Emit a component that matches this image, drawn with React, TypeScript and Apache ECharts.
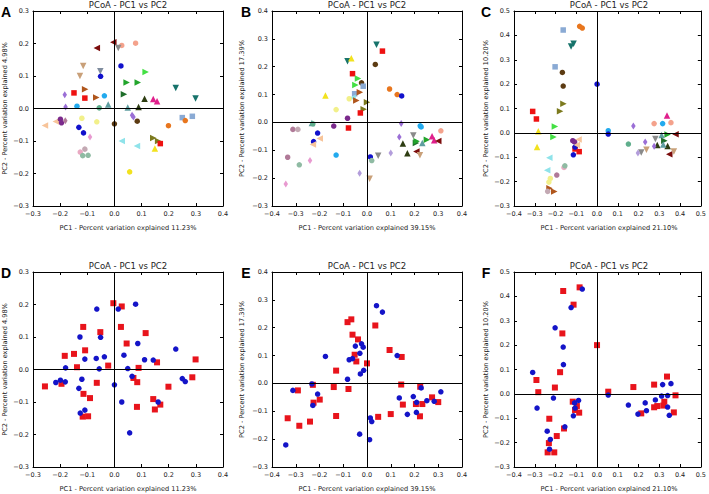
import { useEffect, useRef } from 'react';
import * as echarts from 'echarts';

// [PC1, PC2, sample key, group]  group: R = red squares, B = blue circles
type Pt = [number, number, string, string];

const pcoaA: Pt[] = [
  [-0.065, 0.186, 'maroonL', 'B'], [-0.004, 0.204, 'maroonL', 'R'],
  [0.027, 0.194, 'salmonO', 'R'], [0.078, 0.201, 'salmonO', 'B'],
  [0.014, 0.186, 'grayV', 'B'], [-0.115, 0.131, 'tanV', 'R'],
  [-0.127, 0.100, 'tanV', 'B'], [-0.052, 0.115, 'slateV', 'R'],
  [0.024, 0.131, 'blueO', 'R'], [-0.051, 0.099, 'blueO', 'B'],
  [0.115, 0.112, 'limeR', 'R'], [0.045, 0.080, 'greenR', 'R'],
  [0.086, 0.080, 'greenR', 'B'], [0.226, 0.063, 'tealV', 'B'],
  [0.299, 0.031, 'tealV', 'R'], [-0.183, 0.042, 'purpleD', 'R'],
  [-0.149, 0.048, 'redS', 'R'], [-0.109, 0.032, 'redS', 'B'],
  [-0.108, 0.059, 'siennaR', 'R'], [-0.067, 0.034, 'siennaR', 'B'],
  [-0.037, 0.039, 'skyO', 'B'], [0.035, 0.044, 'dkgreenR', 'B'],
  [-0.138, 0.007, 'skyO', 'R'], [-0.180, 0.005, 'purpleD', 'B'],
  [-0.056, 0.002, 'seaO', 'B'], [-0.023, 0.012, 'cadetA', 'R'],
  [0.049, 0.003, 'cadetA', 'B'], [0.089, 0.005, 'oliveDkA', 'R'],
  [0.111, 0.030, 'oliveDkA', 'B'], [0.143, 0.029, 'pinkA', 'B'],
  [0.157, 0.022, 'pinkA', 'R'], [0.065, -0.021, 'purpleD', 'B'],
  [0.070, -0.026, 'purpleD', 'R'], [0.084, -0.039, 'dkbrownO', 'R'],
  [0.000, -0.047, 'dkbrownO', 'B'], [0.250, -0.028, 'steelS', 'B'],
  [0.287, -0.024, 'steelS', 'R'], [0.261, -0.037, 'orangeO', 'B'],
  [0.199, -0.053, 'orangeO', 'R'], [-0.256, -0.052, 'peachL', 'R'],
  [-0.216, -0.040, 'peachL', 'B'], [-0.199, -0.033, 'plumO', 'B'],
  [-0.195, -0.044, 'plumO', 'R'], [-0.181, -0.038, 'rosyD', 'B'],
  [-0.120, -0.030, 'khakiO', 'B'], [-0.065, -0.041, 'khakiO', 'R'],
  [-0.131, -0.058, 'blueO', 'B'], [-0.114, -0.075, 'blueO', 'R'],
  [-0.090, -0.088, 'pinkD', 'R'], [0.027, -0.100, 'cyanL', 'B'],
  [0.083, -0.115, 'cyanL', 'R'], [0.143, -0.091, 'oliveR', 'R'],
  [0.161, -0.100, 'oliveR', 'B'], [0.169, -0.108, 'redS', 'R'],
  [0.149, -0.123, 'yellowA', 'R'], [-0.126, -0.134, 'ltpinkO', 'B'],
  [-0.109, -0.125, 'mauveO', 'B'], [-0.117, -0.145, 'sageO', 'R'],
  [-0.097, -0.144, 'sageO', 'R'], [0.056, -0.195, 'yellowO', 'B'],
];

const pcoaB: Pt[] = [
  [0.040, 0.279, 'tealV', 'B'], [0.065, 0.256, 'redS', 'B'],
  [-0.082, 0.220, 'tealV', 'R'], [-0.066, 0.230, 'yellowA', 'R'],
  [0.035, 0.208, 'dkbrownO', 'R'], [-0.061, 0.175, 'redS', 'R'],
  [-0.038, 0.158, 'limeR', 'R'], [-0.023, 0.142, 'dkbrownO', 'B'],
  [-0.049, 0.134, 'limeR', 'B'], [-0.016, 0.130, 'steelS', 'B'],
  [-0.052, 0.103, 'steelS', 'R'], [-0.061, 0.089, 'cyanL', 'B'],
  [-0.075, 0.085, 'khakiO', 'B'], [-0.030, 0.108, 'siennaR', 'B'],
  [-0.045, 0.079, 'siennaR', 'R'], [0.000, 0.072, 'oliveR', 'R'],
  [-0.014, 0.047, 'oliveR', 'B'], [0.095, 0.120, 'orangeO', 'R'],
  [0.127, 0.100, 'orangeO', 'B'], [0.146, 0.095, 'blueO', 'R'],
  [-0.175, 0.097, 'yellowA', 'B'], [-0.130, 0.046, 'khakiO', 'R'],
  [-0.028, 0.034, 'redS', 'B'], [-0.082, 0.015, 'plumO', 'B'],
  [-0.140, -0.013, 'plumO', 'R'], [-0.078, -0.020, 'redS', 'R'],
  [-0.232, -0.002, 'cadetA', 'B'], [-0.228, -0.005, 'seaO', 'R'],
  [-0.312, -0.025, 'rosyO', 'B'], [-0.291, -0.025, 'mauveO', 'R'],
  [-0.208, -0.038, 'blueO', 'B'], [-0.225, -0.069, 'blueO', 'R'],
  [-0.199, -0.058, 'peachL', 'R'], [-0.228, -0.079, 'peachL', 'B'],
  [0.144, -0.004, 'purpleD', 'R'], [0.224, -0.012, 'skyO', 'R'],
  [0.228, -0.016, 'skyO', 'B'], [0.311, -0.030, 'salmonO', 'B'],
  [0.195, -0.047, 'grayV', 'B'], [0.136, -0.052, 'purpleD', 'B'],
  [0.206, -0.074, 'dkgreenR', 'R'], [0.209, -0.068, 'greenR', 'B'],
  [0.233, -0.074, 'cadetA', 'R'], [0.252, -0.062, 'greenR', 'B'],
  [0.274, -0.050, 'pinkA', 'R'], [0.283, -0.064, 'pinkA', 'B'],
  [0.300, -0.067, 'maroonL', 'R'], [0.151, -0.076, 'oliveDkA', 'R'],
  [0.170, -0.111, 'oliveDkA', 'B'], [0.208, -0.104, 'maroonL', 'B'],
  [0.223, -0.118, 'tanV', 'R'], [0.047, -0.120, 'grayV', 'R'],
  [0.100, -0.110, 'lavD', 'R'], [0.014, -0.124, 'blueO', 'B'],
  [0.020, -0.137, 'sageO', 'B'], [-0.130, -0.117, 'skyO', 'R'],
  [-0.285, -0.152, 'sageO', 'R'], [-0.334, -0.125, 'rosyO', 'R'],
  [-0.240, -0.137, 'pinkD', 'R'], [-0.342, -0.221, 'pinkD', 'B'],
  [-0.031, -0.182, 'lavD', 'B'], [0.011, -0.202, 'tanV', 'B'],
];

const pcoaC: Pt[] = [
  [-0.163, 0.422, 'steelS', 'R'], [-0.084, 0.437, 'orangeO', 'R'],
  [-0.071, 0.430, 'orangeO', 'B'], [-0.113, 0.366, 'tealV', 'R'],
  [-0.125, 0.354, 'tealV', 'B'], [-0.202, 0.271, 'steelS', 'B'],
  [-0.167, 0.248, 'dkbrownO', 'R'], [-0.163, 0.192, 'dkbrownO', 'B'],
  [-0.162, 0.120, 'oliveR', 'B'], [-0.178, 0.089, 'oliveR', 'R'],
  [0.000, 0.200, 'blueO', 'R'], [-0.310, 0.088, 'redS', 'B'],
  [-0.292, 0.057, 'redS', 'R'], [-0.283, 0.007, 'yellowA', 'R'],
  [-0.289, -0.058, 'yellowA', 'B'], [-0.203, 0.026, 'limeR', 'R'],
  [-0.210, -0.017, 'limeR', 'B'], [-0.117, -0.032, 'plumO', 'R'],
  [-0.108, -0.037, 'plumO', 'B'], [-0.089, -0.027, 'peachL', 'B'],
  [-0.106, -0.066, 'redS', 'R'], [-0.086, -0.077, 'redS', 'R'],
  [-0.106, -0.058, 'blueO', 'B'], [-0.114, -0.090, 'blueO', 'B'],
  [-0.097, -0.050, 'peachL', 'R'], [-0.230, -0.102, 'cyanL', 'R'],
  [-0.240, -0.153, 'cyanL', 'B'], [-0.159, -0.142, 'ltpinkO', 'R'],
  [-0.155, -0.135, 'sageO', 'B'], [-0.194, -0.173, 'rosyO', 'R'],
  [-0.225, -0.187, 'khakiO', 'B'], [-0.232, -0.202, 'khakiO', 'R'],
  [-0.229, -0.227, 'siennaR', 'B'], [-0.206, -0.240, 'siennaR', 'R'],
  [-0.238, -0.240, 'mauveO', 'R'],
  [0.054, 0.009, 'skyO', 'R'], [0.054, -0.005, 'blueO', 'B'],
  [0.175, 0.028, 'purpleD', 'R'], [0.275, 0.038, 'salmonO', 'R'],
  [0.316, 0.038, 'skyO', 'B'], [0.337, 0.071, 'pinkA', 'R'],
  [0.356, 0.042, 'salmonO', 'B'], [0.311, -0.009, 'cadetA', 'B'],
  [0.340, -0.007, 'greenR', 'B'], [0.378, -0.006, 'maroonL', 'R'],
  [0.281, -0.025, 'grayV', 'B'], [0.324, -0.032, 'dkgreenR', 'R'],
  [0.290, -0.050, 'oliveDkA', 'R'], [0.275, -0.055, 'purpleD', 'R'],
  [0.340, -0.054, 'oliveDkA', 'B'], [0.319, -0.048, 'cadetA', 'R'],
  [0.151, -0.046, 'seaO', 'B'], [0.232, -0.037, 'purpleD', 'B'],
  [0.238, -0.069, 'tanV', 'B'], [0.213, -0.080, 'grayV', 'R'],
  [0.197, -0.083, 'lavD', 'B'], [0.348, -0.088, 'maroonL', 'B'],
  [0.370, -0.076, 'tanV', 'R'],
];

const pc1Explained = ['11.23%', '39.15%', '21.10%'];
const pc2Explained = ['4.98%', '17.39%', '10.20%'];
const xRanges: [number, number][] = [[-0.3, 0.4], [-0.4, 0.4], [-0.4, 0.5]];
const yRanges: [number, number][] = [[-0.3, 0.3], [-0.3, 0.4], [-0.3, 0.5]];
const panelLetters = ['A', 'B', 'C', 'D', 'E', 'F'];
const chartTitle = 'PCoA - PC1 vs PC2';

// styles
const SHAPES: Record<string, string> = {
  O: 'circle',
  S: 'rect',
  A: 'triangle',
  V: 'path://M0,0L10,0L5,10Z',
  R: 'path://M0,0L10,5L0,10Z',
  L: 'path://M10,0L0,5L10,10Z',
  D: 'diamond',
};
const SIZES: Record<string, number | number[]> = {
  O: 5.5, S: 5.5, A: 6.5, V: 6.5, R: 6.5, L: 6.5, D: [4.5, 7],
};
const sampleStyle: Record<string, [string, string]> = {
  maroonL: ['#7b0c0c', 'L'], salmonO: ['#f4a28c', 'O'], grayV: ['#8a8a8a', 'V'],
  tanV: ['#c9a079', 'V'], slateV: ['#7f8c9e', 'V'], blueO: ['#1111cc', 'O'],
  limeR: ['#44e044', 'R'], greenR: ['#22a52c', 'R'], dkgreenR: ['#1e6e2a', 'R'],
  tealV: ['#17736b', 'V'], purpleD: ['#9b6fd6', 'D'], lavD: ['#b39ddb', 'D'],
  redS: ['#ee1111', 'S'], siennaR: ['#b0561c', 'R'], skyO: ['#22aaee', 'O'],
  seaO: ['#5fae8c', 'O'], cadetA: ['#5f9ea0', 'A'], oliveDkA: ['#2e3d12', 'A'],
  pinkA: ['#e0208c', 'A'], dkbrownO: ['#5c3b12', 'O'], steelS: ['#8aaad4', 'S'],
  orangeO: ['#e8761e', 'O'], peachL: ['#f7c49a', 'L'], plumO: ['#7b2a8c', 'O'],
  rosyD: ['#b07a98', 'D'], rosyO: ['#b07a98', 'O'], khakiO: ['#f2f08a', 'O'],
  pinkD: ['#e89ad0', 'D'], cyanL: ['#8fe3ea', 'L'], oliveR: ['#7c7a1e', 'R'],
  yellowA: ['#f2e21e', 'A'], yellowO: ['#f2e21e', 'O'], ltpinkO: ['#e9a9c2', 'O'],
  mauveO: ['#c3a9b3', 'O'], sageO: ['#8fbba3', 'O'],
};
const RED = '#e8141c';
const BLUE = '#1414c8';
const FONT = 'DejaVu Sans';

const layout = [
  { left: 33, top: 11, yNameX: 5, letterX: 6 },
  { left: 272, top: 11, yNameX: 242, letterX: 246 },
  { left: 514, top: 11, yNameX: 486, letterX: 486 },
  { left: 33, top: 272, yNameX: 5, letterX: 6 },
  { left: 272, top: 272, yNameX: 242, letterX: 246 },
  { left: 514, top: 272, yNameX: 486, letterX: 486 },
];
const GW = 190;
const GH = 195;

function fmt(v: number) {
  const r = Math.round(v * 10) / 10;
  const s = Math.abs(r).toFixed(1);
  return r < 0 ? '\u2212' + s : s;
}

export default function App() {
  const ref = useRef<HTMLDivElement>(null);
  useEffect(() => {
    if (!ref.current) return;
    const chart = echarts.init(ref.current, null, { renderer: 'svg' });
    const datasets = [pcoaA, pcoaB, pcoaC];
    const grids: any[] = [];
    const xAxes: any[] = [];
    const yAxes: any[] = [];
    const series: any[] = [];
    const graphics: any[] = [];
    layout.forEach((L, i) => {
      const k = i % 3;
      const colored = i < 3;
      const data = datasets[k];
      grids.push({ left: L.left, top: L.top, width: GW, height: GH });
      const axisCommon = (pos: string, labels: boolean) => ({
        type: 'value',
        gridIndex: i,
        position: pos,
        interval: 0.1,
        splitLine: { show: false },
        axisLine: { show: true, onZero: false, lineStyle: { color: '#000', width: 1 } },
        axisTick: { show: true, inside: true, length: 3, lineStyle: { color: '#000', width: 1 } },
        axisLabel: {
          show: labels, formatter: fmt, fontSize: 6.5, color: '#222', fontFamily: FONT, margin: 4,
          showMinLabel: true, showMaxLabel: true,
        },
      });
      xAxes.push({ ...axisCommon('bottom', true), min: xRanges[k][0], max: xRanges[k][1] });
      xAxes.push({ ...axisCommon('top', false), min: xRanges[k][0], max: xRanges[k][1] });
      yAxes.push({ ...axisCommon('left', true), min: yRanges[k][0], max: yRanges[k][1] });
      yAxes.push({ ...axisCommon('right', false), min: yRanges[k][0], max: yRanges[k][1] });
      const markLine = {
        silent: true,
        symbol: ['none', 'none'],
        label: { show: false },
        lineStyle: { color: '#000', width: 1, type: 'solid' },
        data: [{ xAxis: 0 }, { yAxis: 0 }],
      };
      if (colored) {
        series.push({
          type: 'scatter',
          xAxisIndex: 2 * i,
          yAxisIndex: 2 * i,
          markLine,
          data: data.map((p) => {
            const [color, shape] = sampleStyle[p[2]];
            return {
              value: [p[0], p[1]],
              symbol: SHAPES[shape],
              symbolSize: SIZES[shape],
              itemStyle: { color, opacity: 1 },
            };
          }),
        });
      } else {
        series.push({
          type: 'scatter',
          xAxisIndex: 2 * i,
          yAxisIndex: 2 * i,
          markLine,
          symbol: 'rect',
          symbolSize: 6,
          itemStyle: { color: RED, opacity: 1 },
          data: data.filter((p) => p[3] === 'R').map((p) => [p[0], p[1]]),
        });
        series.push({
          type: 'scatter',
          xAxisIndex: 2 * i,
          yAxisIndex: 2 * i,
          symbol: 'circle',
          symbolSize: 5.5,
          itemStyle: { color: BLUE, opacity: 1 },
          data: data.filter((p) => p[3] === 'B').map((p) => [p[0], p[1]]),
        });
      }
      const txt = (x: number, y: number, text: string, size: number, extra: any = {}) => ({
        type: 'text',
        x,
        y,
        ...extra,
        style: {
          text,
          fill: extra.fill || '#222',
          fontSize: size,
          fontFamily: extra.fontFamily || FONT,
          fontWeight: extra.fontWeight || 'normal',
          textAlign: 'center',
          textVerticalAlign: 'middle',
          align: 'center',
          verticalAlign: 'middle',
        },
      });
      graphics.push(txt(L.left + GW / 2, L.top - 6.5, chartTitle, 8.5));
      graphics.push(txt(L.left + GW / 2, L.top + GH + 22, 'PC1 - Percent variation explained ' + pc1Explained[k], 6.6));
      graphics.push(txt(L.yNameX, L.top + GH / 2, 'PC2 - Percent variation explained ' + pc2Explained[k], 6.6, { rotation: Math.PI / 2 }));
      graphics.push(txt(L.letterX, L.top + 1, panelLetters[i], 14, { fontWeight: 'bold', fontFamily: 'Liberation Sans', fill: '#000' }));
    });
    chart.setOption({
      animation: false,
      backgroundColor: '#fff',
      grid: grids,
      xAxis: xAxes,
      yAxis: yAxes,
      series,
      graphic: { elements: graphics },
    });
    return () => chart.dispose();
  }, []);
  return <div ref={ref} style={{ position: 'absolute', left: 0, top: 0, width: 709, height: 494 }} />;
}
